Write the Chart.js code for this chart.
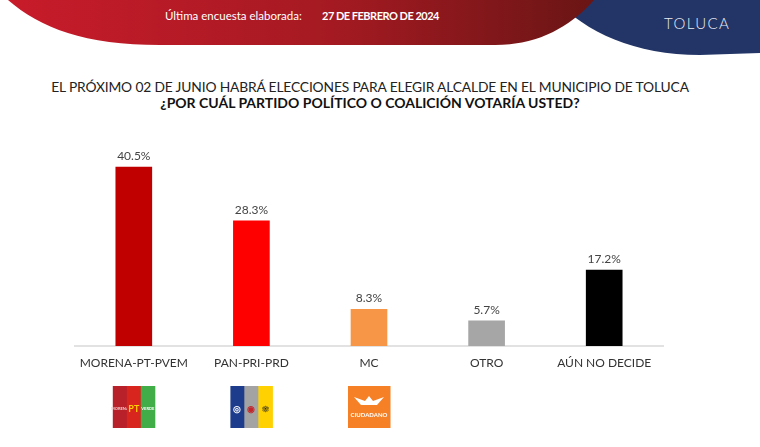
<!DOCTYPE html>
<html lang="es">
<head>
    <meta charset="UTF-8">
    <title>Toluca - encuesta</title>
    <script src="https://cdn.jsdelivr.net/npm/chart.js"></script>
    <style>
        body { margin: 0; background: #fff; font-family: 'Lato', 'Open Sans', sans-serif; }
        #page { position: relative; width: 760px; height: 447px; overflow: hidden; }
        #header { position: absolute; left: 0; top: 0; }
        .hdr-text { position: absolute; top: 9px; color: #fff; font-size: 11.5px; white-space: nowrap; }
        #toluca { position: absolute; left: 664px; top: 14px; color: #e9ebf3; font-size: 15px; font-weight: 300; letter-spacing: 1.4px; }
        #title1 { position: absolute; left: 0; width: 740px; top: 78px; text-align: center; font-size: 13.8px; color: #222; letter-spacing: -0.15px; }
        #title2 { position: absolute; left: 0; width: 740px; top: 94px; text-align: center; font-size: 14px; font-weight: 700; color: #111; }
        #chart-box { position: absolute; left: 0; top: 0; width: 760px; height: 447px; }
    </style>
</head>
<body>
<div id="page">
    <svg id="header" width="760" height="60">
        <defs>
            <linearGradient id="redGrad" x1="0" y1="0" x2="1" y2="0">
                <stop offset="0" stop-color="#c81b2a"/>
                <stop offset="0.55" stop-color="#a51a22"/>
                <stop offset="1" stop-color="#6a1515"/>
            </linearGradient>
        </defs>
        <path d="M 556 0 C 585 32, 635 55, 700 55 L 760 53 L 760 0 Z" fill="#223566"/>
        <path d="M 8 0 C 40 28, 85 45, 160 45 L 495 45 C 540 45, 572 25, 594 0 Z" fill="url(#redGrad)"/>
    </svg>
    <div class="hdr-text" style="left:165px">Última encuesta elaborada:</div>
    <div class="hdr-text" style="left:322px;font-weight:700;font-size:11px;letter-spacing:-0.5px">27 DE FEBRERO DE 2024</div>
    <div id="toluca">TOLUCA</div>
    <div id="title1">EL PRÓXIMO 02 DE JUNIO HABRÁ ELECCIONES PARA ELEGIR ALCALDE EN EL MUNICIPIO DE TOLUCA</div>
    <div id="title2">¿POR CUÁL PARTIDO POLÍTICO O COALICIÓN VOTARÍA USTED?</div>
    <div id="chart-box"><canvas id="survey-chart"></canvas></div>
</div>

<script>
    // datos de la encuesta
    const partidos = ['MORENA-PT-PVEM', 'PAN-PRI-PRD', 'MC', 'OTRO', 'AÚN NO DECIDE'];
    const porcentajes = [40.5, 28.3, 8.3, 5.7, 17.2];
    const coloresBarras = ['#c00000', '#ff0000', '#f79646', '#a6a6a6', '#000000'];

    // logotipos simplificados (franjas de color) debajo de las categorias
    const logos = [
        [{ c: '#b8202a', t: 'MORENA', tc: '#f3d0d0' }, { c: '#d8261e', t: 'PT', tc: '#ffd200' }, { c: '#41ad49', t: 'VERDE', tc: '#fff' }],
        [{ c: '#1e3c8c', t: '◎', tc: '#fff' }, { c: '#a3a3a3', t: '◉', tc: '#c0272d' }, { c: '#ffd100', t: '☀', tc: '#222' }],
        [{ c: '#f58025', t: 'CIUDADANO', tc: '#fff' }],
        null,
        null
    ];

    const valueLabels = {
        id: 'valueLabels',
        afterDatasetsDraw(chart) {
            const ctx = chart.ctx;
            const meta = chart.getDatasetMeta(0);
            ctx.save();
            ctx.font = '12px Lato, sans-serif';
            ctx.fillStyle = '#444';
            ctx.textAlign = 'center';
            ctx.textBaseline = 'bottom';
            meta.data.forEach((bar, i) => {
                ctx.fillText(porcentajes[i].toFixed(1) + '%', bar.x, bar.y - 5);
            });

            // logos
            const xScale = chart.scales.x;
            logos.forEach((logo, i) => {
                if (!logo) return;
                const cx = xScale.getPixelForValue(i);
                const size = 42, top = 386;
                const left = cx - size / 2;
                const w = size / logo.length;
                logo.forEach((s, k) => {
                    ctx.fillStyle = s.c;
                    ctx.fillRect(left + k * w, top, w + 0.5, size);
                    ctx.fillStyle = s.tc;
                    const fs = logo.length === 1 ? 6 : (s.t.length > 3 ? 4 : 9);
                    ctx.font = 'bold ' + fs + 'px Lato, sans-serif';
                    ctx.textBaseline = 'middle';
                    ctx.fillText(s.t, left + k * w + w / 2, top + size / 2 + (logo.length === 1 ? 8 : 2));
                });
                if (logo.length === 1) {
                    // emblema del aguila
                    ctx.fillStyle = '#fff';
                    ctx.beginPath();
                    ctx.moveTo(cx - 15, top + 11);
                    ctx.lineTo(cx - 4, top + 15);
                    ctx.lineTo(cx, top + 10);
                    ctx.lineTo(cx + 4, top + 15);
                    ctx.lineTo(cx + 15, top + 11);
                    ctx.lineTo(cx + 8, top + 19);
                    ctx.lineTo(cx - 8, top + 19);
                    ctx.closePath();
                    ctx.fill();
                }
            });
            ctx.restore();
        }
    };

    new Chart(document.getElementById('survey-chart'), {
        type: 'bar',
        data: {
            labels: partidos,
            datasets: [{
                data: porcentajes,
                backgroundColor: coloresBarras,
                barThickness: 36
            }]
        },
        options: {
            responsive: true,
            maintainAspectRatio: false,
            animation: false,
            layout: { padding: { left: 75, right: 97, top: 125, bottom: 71 } },
            plugins: {
                legend: { display: false },
                tooltip: { enabled: false }
            },
            scales: {
                x: {
                    grid: { display: false, drawTicks: false },
                    border: { color: '#e2e2e2', width: 2 },
                    ticks: {
                        color: '#333',
                        padding: 10,
                        font: { family: 'Lato', size: 12 }
                    },
                    afterFit(scale) { scale.height = 30; }
                },
                y: {
                    display: false,
                    min: 0,
                    max: 50
                }
            }
        },
        plugins: [valueLabels]
    });
</script>
</body>
</html>
